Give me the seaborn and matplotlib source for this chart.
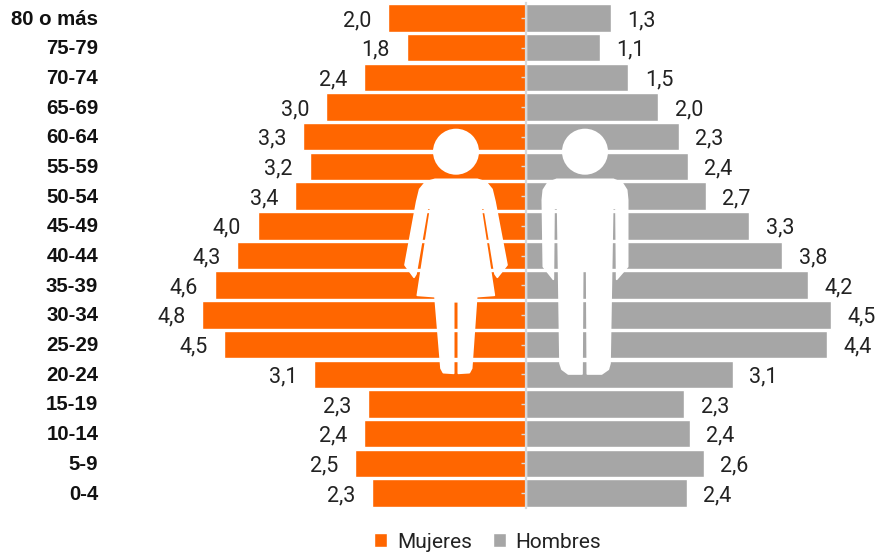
import matplotlib
matplotlib.use("Agg")
import matplotlib.pyplot as plt
from matplotlib.patches import Polygon, Circle, Patch
from matplotlib.transforms import Affine2D, ScaledTranslation
import pandas as pd
import seaborn as sns

groups = ["80 o más", "75-79", "70-74", "65-69", "60-64", "55-59", "50-54", "45-49", "40-44",
          "35-39", "30-34", "25-29", "20-24", "15-19", "10-14", "5-9", "0-4"]
mujeres = [2.04, 1.76, 2.40, 2.96, 3.29, 3.20, 3.42, 3.97, 4.27, 4.60, 4.79, 4.46, 3.13, 2.34, 2.39, 2.53, 2.27]
hombres = [1.26, 1.10, 1.52, 1.97, 2.27, 2.40, 2.67, 3.31, 3.80, 4.18, 4.53, 4.46, 3.07, 2.35, 2.43, 2.64, 2.39]
mujeres_labels = ["2,0", "1,8", "2,4", "3,0", "3,3", "3,2", "3,4", "4,0", "4,3", "4,6", "4,8", "4,5", "3,1", "2,3", "2,4", "2,5", "2,3"]
hombres_labels = ["1,3", "1,1", "1,5", "2,0", "2,3", "2,4", "2,7", "3,3", "3,8", "4,2", "4,5", "4,4", "3,1", "2,3", "2,4", "2,6", "2,4"]
series = ["Mujeres", "Hombres"]
colors = ["#FF6600", "#A6A6A6"]

W, H = 880, 552
sns.set_theme(style="white")
plt.rcParams["font.family"] = ["Roboto", "DejaVu Sans"]

df = pd.DataFrame({
    "grupo": groups * 2,
    "valor": [-v for v in mujeres] + hombres,
    "sexo": [series[0]] * len(groups) + [series[1]] * len(groups),
})

fig = plt.figure(figsize=(W / 100, H / 100), dpi=100, facecolor="white")
ax = fig.add_axes([0, 0, 1, 1])
sns.barplot(data=df, x="valor", y="grupo", hue="sexo", order=groups, hue_order=series,
            palette=colors, dodge=False, width=0.925, legend=False, saturation=1, ax=ax)

x0, sx = 525.5, 67.5
y0, sy = 18.0, 29.69
ax.set_xlim((0 - x0) / sx, (W - x0) / sx)
ax.set_ylim((H - y0) / sy, (0 - y0) / sy)
ax.set_xlabel("")
ax.set_ylabel("")
ax.set_xticks([])
ax.patch.set_alpha(0)
for s in ["top", "right", "bottom"]:
    ax.spines[s].set_visible(False)
ax.spines["left"].set_position(("data", 0))
ax.spines["left"].set_color("#D9D9D9")
ax.spines["left"].set_linewidth(1.6)
ax.spines["left"].set_bounds(-0.5, 16.5)
ax.spines["left"].set_zorder(4)
ax.set_axisbelow(False)
ax.yaxis.set_zorder(4)
ax.tick_params(axis="y", left=True, length=3.6, width=1, color="#D9D9D9", pad=304)
shift = ScaledTranslation(0, 0.7 / 72, fig.dpi_scale_trans)
for t in ax.get_yticklabels():
    t.set_family(["Liberation Sans", "DejaVu Sans"])
    t.set_fontweight("bold")
    t.set_fontsize(14.7)
    t.set_color("#111111")
    t.set_ha("right")
    t.set_transform(t.get_transform() + shift)

for cont, labs in zip(ax.containers, [mujeres_labels, hombres_labels]):
    for a in ax.bar_label(cont, labels=labs, padding=12, fontsize=15.5, color="#222222"):
        a.set_va("center_baseline")

# pictogramas (coordenadas de píxel de la figura)
px = Affine2D().scale(1, -1).translate(0, H)
def z(points, ox=380, oy=110):
    return [(ox + a / 3, oy + b / 3) for a, b in points]

woman = z([(165, 208), (292, 208), (318, 216), (336, 238), (345, 275), (381, 465), (352, 502), (345, 492),
           (313, 295), (303, 295), (343, 556), (290, 560), (275, 775), (268, 788), (235, 790), (235, 575),
           (221, 575), (221, 790), (190, 788), (183, 775), (165, 560), (112, 556), (152, 295), (142, 295),
           (108, 492), (102, 502), (75, 465), (110, 275), (119, 238), (137, 216)])
man = z([(530, 208), (700, 208), (726, 218), (740, 240), (743, 270), (743, 470), (710, 508), (708, 295),
         (698, 295), (690, 760), (685, 778), (665, 792), (622, 792), (620, 475), (608, 475), (606, 792),
         (565, 792), (546, 778), (540, 760), (533, 295), (522, 295), (520, 508), (490, 470), (487, 270),
         (490, 240), (504, 218)])
for pts in (woman, man):
    ax.add_artist(Polygon(pts, closed=True, facecolor="white", edgecolor="white", lw=1.2,
                          joinstyle="round", transform=px, zorder=5))
for cx in (456, 585):
    ax.add_artist(Circle((cx, 151.7), 23, facecolor="white", edgecolor="none", transform=px, zorder=5))

handles = [Patch(facecolor=c, label=n) for c, n in zip(colors, series)]
fig.legend(handles=handles, loc="center", bbox_to_anchor=(487.5 / W, 1 - 542 / H), ncol=2, frameon=False,
           fontsize=15, labelcolor="#222222", handlelength=0.66, handleheight=0.66, handletextpad=0.45,
           columnspacing=1.0, borderpad=0, borderaxespad=0)

fig.savefig("out.png", dpi=100)
